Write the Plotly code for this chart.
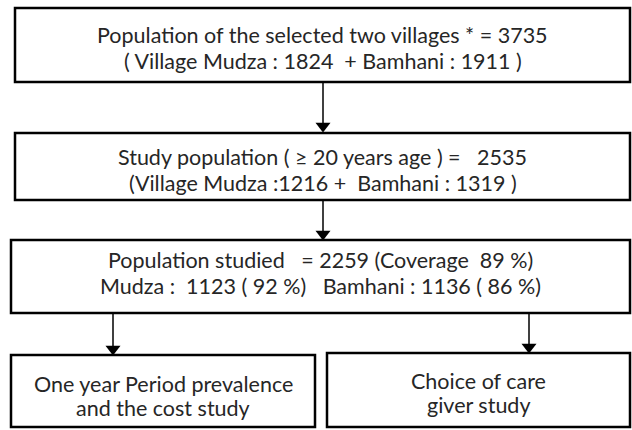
import plotly.graph_objects as go

# Flowchart content
box_texts = [
    ["Population of the selected two villages * = 3735", "( Village Mudza : 1824  + Bamhani : 1911 )"],
    ["Study population ( \u2265 20 years age ) =   2535", "(Village Mudza :1216 +  Bamhani : 1319 )"],
    ["Population studied   = 2259 (Coverage  89 %)", "Mudza :  1123 ( 92 %)   Bamhani : 1136 ( 86 %)"],
    ["One year Period prevalence", "and the cost study"],
    ["Choice of care", "giver study"],
]

# layout geometry (pixel space)
boxes = [  # x0, x1, y0, y1
    (15, 630, 8, 82),
    (15, 630, 133, 200),
    (11, 630, 240, 313),
    (11, 315, 355, 427),
    (327, 630, 353, 427),
]
text_y = [(35, 61), (157, 183), (260, 286), (384, 408), (381, 405)]
arrows = [  # x, y_start, y_tip
    (323, 82, 131),
    (323, 200, 239),
    (113, 313, 354),
    (529, 313, 352),
]

W, H = 632, 430
fig = go.Figure()
FONT = "Lato"
FS = 21.5

for (x0, x1, y0, y1), lines, ys in zip(boxes, box_texts, text_y):
    fig.add_shape(type="rect", x0=x0, x1=x1, y0=y0, y1=y1,
                  line=dict(color="black", width=2.5), fillcolor="white", layer="below")
    cx = (x0 + x1) / 2
    for t, yy in zip(lines, ys):
        fig.add_annotation(x=cx, y=yy, text=t, showarrow=False,
                           font=dict(family=FONT, size=FS, color="#262626"),
                           xanchor="center", yanchor="middle")

tri_x, tri_y = [], []
for x, ys, yt in arrows:
    fig.add_shape(type="line", x0=x, x1=x, y0=ys, y1=yt - 8,
                  line=dict(color="black", width=1.5))
    tri_x.append(x)
    tri_y.append(yt - 5)

fig.add_trace(go.Scatter(x=tri_x, y=tri_y, mode="markers",
                         marker=dict(symbol="triangle-down", size=13, color="black",
                                     line=dict(width=0)),
                         hoverinfo="skip", showlegend=False))

fig.update_xaxes(range=[0, W], visible=False, fixedrange=True)
fig.update_yaxes(range=[H, 0], visible=False, fixedrange=True)
fig.update_layout(width=W, height=H, margin=dict(l=0, r=0, t=0, b=0),
                  paper_bgcolor="white", plot_bgcolor="white", showlegend=False)

fig.write_html("out.html", config={"displayModeBar": False},
               post_script="document.body.style.margin='0';document.body.style.overflow='hidden';")
